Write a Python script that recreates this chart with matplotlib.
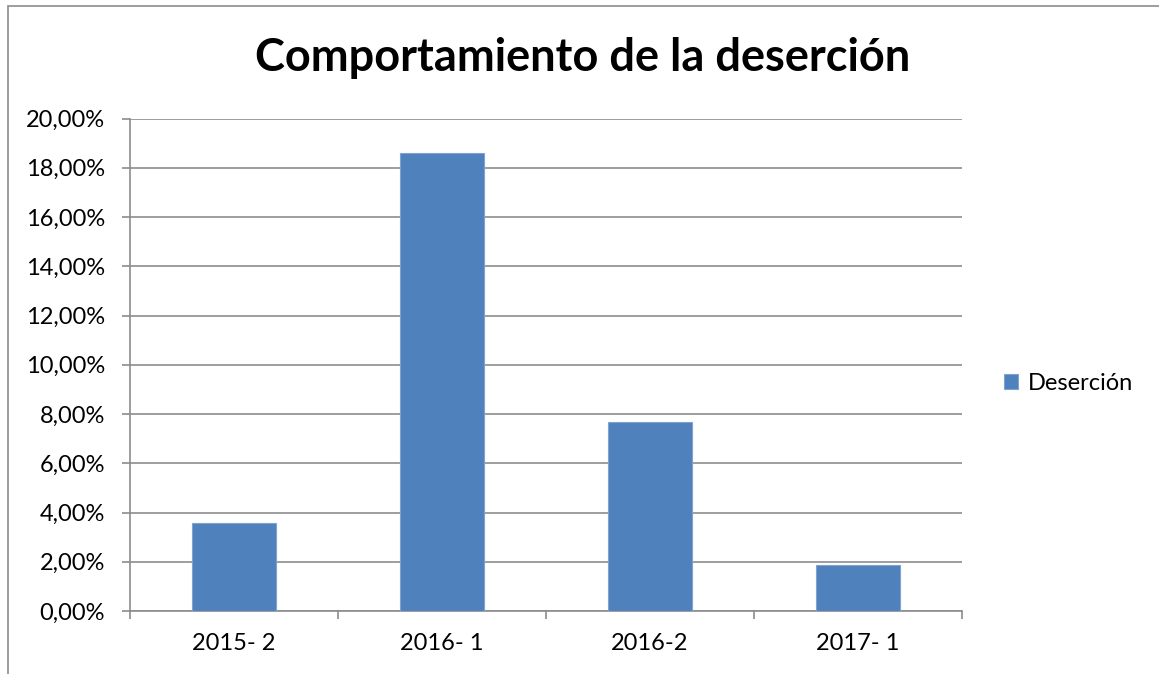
import matplotlib.pyplot as plt
from matplotlib.patches import Rectangle
from matplotlib.ticker import FuncFormatter, MultipleLocator

plt.rcParams['font.family'] = ['Lato', 'DejaVu Sans']

# Data
periodos = ["2015- 2", "2016- 1", "2016-2", "2017- 1"]
desercion = [3.56, 18.58, 7.69, 1.87]  # percent

W, H = 1159, 674
fig = plt.figure(figsize=(W / 100, H / 100), dpi=100)

# chart frame like the spreadsheet export
fig.patches.append(Rectangle((8 / W, -0.01), 1.2, (H - 6) / H + 0.01,
                             transform=fig.transFigure, fill=False,
                             edgecolor="#8c8c8c", linewidth=1.2))

ax = fig.add_axes([130 / W, (H - 611) / H, (962 - 130) / W, (611 - 118.5) / H])

x = range(len(periodos))
ax.bar(x, desercion, width=0.4, color="#4f81bd", edgecolor="#7fa3d0",
       linewidth=0.8, label="Deserción", zorder=3)

ax.set_xlim(-0.5, len(periodos) - 0.5)
ax.set_ylim(0, 20)
ax.yaxis.set_major_locator(MultipleLocator(2))
ax.yaxis.set_major_formatter(FuncFormatter(lambda v, p: f"{v:.2f}".replace(".", ",") + "%"))
ax.grid(axis="y", color="#8c8c8c", linewidth=1.2, zorder=0)

ax.set_xticks([i + 0.5 for i in range(-1, len(periodos))])
ax.set_xticklabels([])
ax.set_xticks(list(x), minor=True)
ax.set_xticklabels(periodos, minor=True, fontsize=17)
ax.tick_params(axis="x", which="minor", length=0, pad=16)
ax.tick_params(axis="x", which="major", length=6, color="#8c8c8c", width=1.2)
ax.tick_params(axis="y", length=6, color="#8c8c8c", width=1.2, labelsize=17, pad=12)

for s in ["top", "right"]:
    ax.spines[s].set_visible(False)
ax.spines["left"].set_color("#8c8c8c")
ax.spines["bottom"].set_color("#8c8c8c")
ax.spines["left"].set_linewidth(1.2)
ax.spines["bottom"].set_linewidth(1.2)

fig.text(583 / W, (H - 58) / H, "Comportamiento de la deserción", ha="center", va="center",
         fontsize=32.5, fontweight="bold")

fig.legend(loc="center left", bbox_to_anchor=(983 / W, (H - 383) / H), frameon=False,
           fontsize=17, handlelength=0.6, handleheight=0.6, handletextpad=0.4)

fig.savefig("out.png", dpi=100)
